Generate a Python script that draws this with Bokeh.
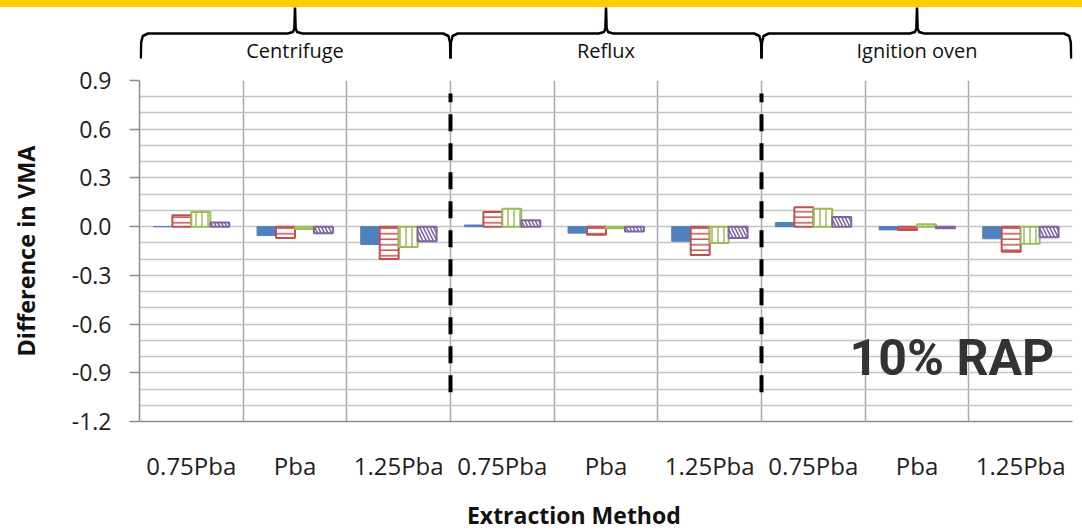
import numpy as np
from bokeh.plotting import figure
from bokeh.layouts import column
from bokeh.models import Range1d, FixedTicker, NumeralTickFormatter, Label, Div
from bokeh.core.properties import value
from bokeh.embed import file_html
from bokeh.resources import INLINE

# ---------------- data ----------------
methods = ["Centrifuge", "Reflux", "Ignition oven"]
binder_levels = ["0.75Pba", "Pba", "1.25Pba"]
categories = [b for m in methods for b in binder_levels]

series_blue = [0.0, -0.055, -0.11, 0.01, -0.04, -0.09, 0.025, -0.02, -0.075]
series_red = [0.07, -0.07, -0.20, 0.09, -0.05, -0.175, 0.12, -0.02, -0.155]
series_green = [0.09, -0.015, -0.125, 0.11, -0.01, -0.10, 0.11, 0.015, -0.105]
series_purple = [0.025, -0.04, -0.09, 0.04, -0.03, -0.07, 0.06, -0.01, -0.065]

y_ticks = [-1.2, -0.9, -0.6, -0.3, 0.0, 0.3, 0.6, 0.9]
y_grid_step = 0.1
annotation_text = "10% RAP"
x_title = "Extraction Method"
y_title = "Difference in VMA"

# ---------------- layout constants ----------------
W = 1082
LEFT, RIGHT = 139, 10
FONT = "Open Sans"
BAND_H, HEAD_H, MAIN_H, FOOT_H = 7, 58, 420, 45

n = len(categories)
nl = len(binder_levels)
x_pos = np.arange(1, n + 1)
x_range = Range1d(0.5, n + 0.5)
bar_w = 0.183


def blank(height, y0, y1):
    f = figure(width=W, height=height, x_range=x_range, y_range=Range1d(y1, y0),
               output_backend="svg", toolbar_location=None,
               min_border_left=LEFT, min_border_right=RIGHT,
               min_border_top=0, min_border_bottom=0,
               outline_line_color=None, background_fill_color="white",
               border_fill_color="white")
    f.axis.visible = False
    f.grid.visible = False
    return f


# yellow band
band = Div(text="", width=W, height=BAND_H, margin=(0, 0, 0, 0),
           styles={"background-color": "#FFCC00", "width": f"{W}px",
                   "height": f"{BAND_H}px", "overflow": "hidden"})

# braces with method names (y in page pixels)
hdr = blank(HEAD_H, BAND_H, BAND_H + HEAD_H)
for gi, m in enumerate(methods):
    x0 = 0.5 + gi * nl + (0.012 if gi == 0 else 0)
    x1 = 0.5 + (gi + 1) * nl - (0.012 if gi == len(methods) - 1 else 0)
    c = 0.5 + gi * nl + nl / 2
    xs = [x0, x0 + 0.004, x0 + 0.02, x0 + 0.07, c - 0.07, c - 0.02, c - 0.006, c,
          c + 0.006, c + 0.02, c + 0.07, x1 - 0.07, x1 - 0.02, x1 - 0.004, x1]
    ys = [58, 42, 35.5, 33, 33, 31.5, 28, 6, 28, 31.5, 33, 33, 35.5, 42, 58]
    hdr.line(xs, ys, line_color="black", line_width=2.5, line_join="round")
    hdr.text(x=[c], y=[50], text=[m],
             text_font=value(FONT), text_font_size="20px", text_align="center",
             text_baseline="middle", text_color="#111111")

# ---------------- main chart ----------------
p = figure(width=W, height=MAIN_H, x_range=x_range, y_range=Range1d(-1.2, 0.9),
           output_backend="svg", toolbar_location=None,
           min_border_left=LEFT, min_border_right=RIGHT, min_border_top=15, min_border_bottom=64,
           outline_line_color=None, background_fill_color="white")

p.xgrid.ticker = FixedTicker(ticks=[i + 0.5 for i in range(n + 1)])
p.xgrid.grid_line_color = "#A9A9A9"
p.xgrid.grid_line_width = 1.5
p.ygrid.ticker = FixedTicker(ticks=[round(v, 1) for v in np.arange(-1.2, 0.9 + 1e-9, y_grid_step)])
p.ygrid.grid_line_color = "#C4C4C4"
p.ygrid.grid_line_width = 1.5

p.xaxis.ticker = FixedTicker(ticks=list(x_pos))
p.xaxis.major_label_overrides = {int(i): lab for i, lab in zip(x_pos, categories)}
p.xaxis.major_tick_out = 0
p.xaxis.major_tick_in = 0
p.xaxis.minor_tick_out = 0
p.xaxis.minor_tick_in = 0
p.xaxis.axis_line_color = "#8C8C8C"
p.xaxis.axis_line_width = 1.5
p.xaxis.major_label_standoff = 27
p.xaxis.major_label_text_font = FONT
p.xaxis.major_label_text_font_size = "24px"
p.xaxis.major_label_text_color = "#1e1e1e"

p.yaxis.ticker = FixedTicker(ticks=y_ticks)
p.yaxis.formatter = NumeralTickFormatter(format="0.0")
p.yaxis.major_tick_out = 10
p.yaxis.major_tick_in = 0
p.yaxis.minor_tick_out = 0
p.yaxis.minor_tick_in = 0
p.yaxis.major_tick_line_color = "#8C8C8C"
p.yaxis.major_tick_line_width = 1.5
p.yaxis.axis_line_color = "#8C8C8C"
p.yaxis.axis_line_width = 1.5
p.yaxis.major_label_standoff = 18
p.yaxis.major_label_text_font = FONT
p.yaxis.major_label_text_font_size = "23px"
p.yaxis.major_label_text_color = "#1e1e1e"
p.yaxis.axis_label = y_title
p.yaxis.axis_label_text_font = FONT
p.yaxis.axis_label_text_font_style = "bold"
p.yaxis.axis_label_text_font_size = "23.5px"
p.yaxis.axis_label_text_color = "#111111"
p.yaxis.axis_label_standoff = 27

# bars
styles = [
    dict(fill_color="#4F81BD", line_color="#4F81BD", line_width=1),
    dict(fill_color="white", line_color="#C0504D", line_width=2,
         hatch_pattern="-", hatch_color="#C0504D", hatch_scale=5.5, hatch_weight=1.5),
    dict(fill_color="white", line_color="#9BBB59", line_width=2,
         hatch_pattern="|", hatch_color="#9BBB59", hatch_scale=6, hatch_weight=1.5),
    dict(fill_color="white", line_color="#8064A2", line_width=2,
         hatch_pattern="\\", hatch_color="#8064A2", hatch_scale=7, hatch_weight=1.6),
]
all_series = [series_blue, series_red, series_green, series_purple]
for k, (vals, st) in enumerate(zip(all_series, styles)):
    p.vbar(x=x_pos + (k - 1.5) * bar_w, top=vals, bottom=0, width=bar_w, **st)

# dashed separators between extraction methods
seps = [0.5 + nl * g for g in range(1, len(methods))]
p.segment(x0=seps, y0=[-1.02] * len(seps), x1=seps, y1=[0.82] * len(seps),
          line_color="black", line_width=4, line_dash="17 12")

p.add_layout(Label(x=7.35, y=-0.81, text=annotation_text,
                   text_font="Roboto", text_font_style="bold",
                   text_font_size="50px", text_color="#333333",
                   text_baseline="middle"))

# ---------------- footer with x title ----------------
ft = blank(FOOT_H, BAND_H + HEAD_H + MAIN_H, BAND_H + HEAD_H + MAIN_H + FOOT_H)
ft.text(x=[4.69], y=[514], text=[x_title], text_font=value(FONT),
        text_font_style="bold", text_font_size="23px", text_align="center",
        text_baseline="middle", text_color="#111111")

layout = column(band, hdr, p, ft, spacing=0)
open("out.html", "w").write(file_html(layout, INLINE))
